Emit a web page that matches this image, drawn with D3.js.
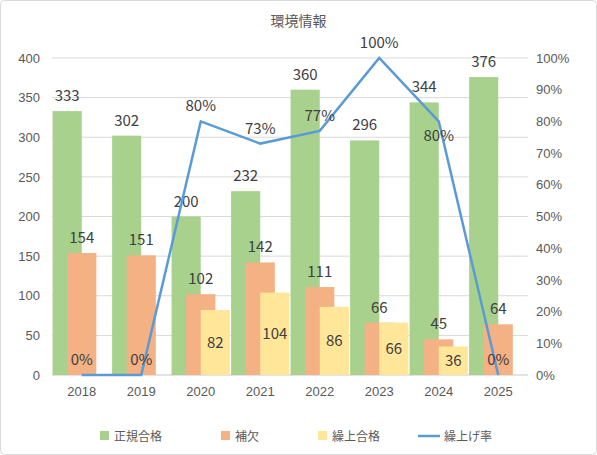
<!DOCTYPE html>
<html><head><meta charset="utf-8">
<script src="https://cdn.jsdelivr.net/npm/d3@7"></script>
<style>
body{margin:0;background:#fff;font-family:"Noto Sans CJK JP","Noto Sans",sans-serif;}
</style></head><body>
<svg id="chart" width="597" height="455"></svg>
<script>
const years = ["2018","2019","2020","2021","2022","2023","2024","2025"];
const regular = [333,302,200,232,360,296,344,376];
const waitlist = [154,151,102,142,111,66,45,64];
const promoted = [null,null,82,104,86,66,36,null];
const rate = [0,0,80,73,77,100,80,0];

const W = 597, H = 455;
const m = {left:52, right:69, top:58, bottom:80};
const svg = d3.select("#chart");
svg.append("rect").attr("x",0.5).attr("y",0.5).attr("width",W-1).attr("height",H-1)
  .attr("rx",4).attr("fill","#fff").attr("stroke","#d9d9d9");

svg.append("text").attr("x",W/2).attr("y",26).attr("text-anchor","middle")
  .attr("font-size",14).attr("fill","#595959").text("環境情報");

const x = d3.scaleBand().domain(years).range([m.left, W-m.right]);
const y = d3.scaleLinear().domain([0,400]).range([H-m.bottom, m.top]);
const y2 = d3.scaleLinear().domain([0,100]).range([H-m.bottom, m.top]);

// gridlines
svg.append("g").selectAll("line").data(y.ticks(8)).join("line")
  .attr("x1",m.left).attr("x2",W-m.right).attr("y1",d=>y(d)).attr("y2",d=>y(d))
  .attr("stroke","#d9d9d9");

const leftAxis = svg.append("g").attr("transform",`translate(${m.left},0)`)
  .call(d3.axisLeft(y).ticks(8).tickSize(0).tickPadding(12));
const rightAxis = svg.append("g").attr("transform",`translate(${W-m.right},0)`)
  .call(d3.axisRight(y2).ticks(10).tickSize(0).tickPadding(8).tickFormat(d=>d+"%"));
const bottomAxis = svg.append("g").attr("transform",`translate(0,${H-m.bottom})`)
  .call(d3.axisBottom(x).tickSize(0).tickPadding(12));
[leftAxis,rightAxis,bottomAxis].forEach(a=>{
  a.select(".domain").remove();
  a.selectAll("text").attr("font-size",13).attr("fill","#595959");
});
bottomAxis.append("line").attr("x1",m.left).attr("x2",W-m.right).attr("stroke","#d9d9d9");

const series = [
  {name:"正規合格", vals:regular, color:"#a9d18e"},
  {name:"補欠", vals:waitlist, color:"#f4b183"},
  {name:"繰上合格", vals:promoted, color:"#ffe699"}
];
const bw = x.bandwidth()*0.49, step = bw/2;
series.forEach((s,si)=>{
  const g = svg.append("g");
  years.forEach((yr,i)=>{
    const v = s.vals[i];
    if (v==null) return;
    const cx = x(yr)+x.bandwidth()/2 + (si-1)*step;
    g.append("rect").attr("x",cx-bw/2).attr("y",y(v)).attr("width",bw)
      .attr("height",y(0)-y(v)).attr("fill",s.color);
    const ty = si===2 ? (y(v)+y(0))/2+5 : y(v)-10;
    g.append("text").attr("x",cx).attr("y",ty).attr("text-anchor","middle")
      .attr("font-size",15).attr("fill","#404040").text(v);
  });
});

const cxOf = yr => x(yr)+x.bandwidth()/2;
svg.append("path").datum(rate)
  .attr("d", d3.line().x((d,i)=>cxOf(years[i])).y(d=>y2(d)))
  .attr("fill","none").attr("stroke","#5b9bd5").attr("stroke-width",2.5);
rate.forEach((r,i)=>{
  const below = i===6;
  svg.append("text").attr("x",cxOf(years[i])).attr("y", below ? y2(r)+20 : y2(r)-10)
    .attr("text-anchor","middle").attr("font-size",15).attr("fill","#404040").text(r+"%");
});

// legend
const legend = [
  {name:"正規合格", color:"#a9d18e", type:"rect", x:100},
  {name:"補欠", color:"#f4b183", type:"rect", x:221},
  {name:"繰上合格", color:"#ffe699", type:"rect", x:318},
  {name:"繰上げ率", color:"#5b9bd5", type:"line", x:430}
];
const lg = svg.append("g").attr("transform","translate(0,436)");
legend.forEach(l=>{
  if (l.type==="rect") lg.append("rect").attr("x",l.x).attr("y",-5).attr("width",9).attr("height",9).attr("fill",l.color);
  else lg.append("line").attr("x1",l.x-12).attr("x2",l.x+10).attr("y1",0).attr("y2",0).attr("stroke",l.color).attr("stroke-width",2.5);
  lg.append("text").attr("x",l.x+14).attr("y",4.5).attr("font-size",12).attr("fill","#595959").text(l.name);
});
</script>
</body></html>
